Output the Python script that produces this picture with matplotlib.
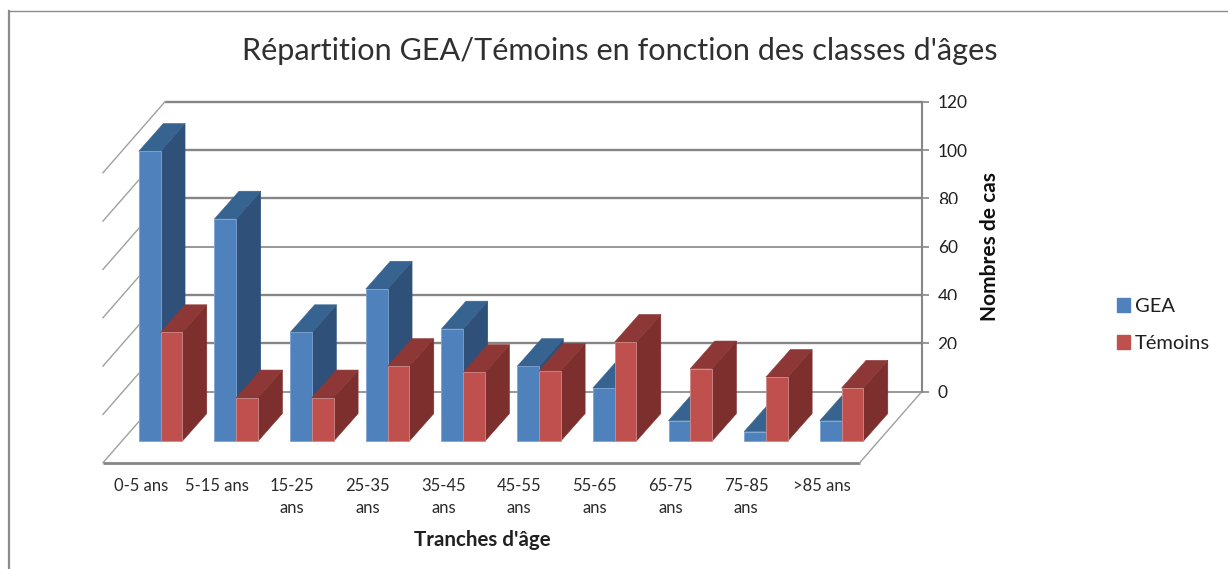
import matplotlib
matplotlib.use("Agg")
import matplotlib.pyplot as plt
from matplotlib.lines import Line2D
from matplotlib.patches import Patch
from matplotlib.transforms import Bbox

W, H = 1228, 569

categories = ["0-5 ans", "5-15 ans", "15-25\nans", "25-35\nans", "35-45\nans",
              "45-55\nans", "55-65\nans", "65-75\nans", "75-85\nans", ">85 ans"]
gea = [120, 92, 45, 63, 46.5, 31, 22, 8.5, 4, 8.5]
temoins = [45, 18, 18, 31, 28.5, 29, 41, 30, 26.5, 22]
yticks = [0, 20, 40, 60, 80, 100, 120]

BLUE = ("#4f81bd", "#2f5179", "#376391", "#7ea3d2")
RED = ("#c0504d", "#7d2f2e", "#8d3836", "#d08a88")
GRID = "#868686"

# fake 3d: offsets from the back wall, in data units (x: category, y: value)
FLOOR_DX, FLOOR_DY = -0.82, -29.4
BAR_DX, BAR_DY = -0.559, -20.5
DEPTH_DX, DEPTH_DY = 0.324, 11.46
BAR_W = 0.287

plt.rcParams["font.family"] = ["Lato", "DejaVu Sans"]

fig = plt.figure(figsize=(W / 100, H / 100), dpi=100)
ax = fig.add_axes([165 / W, (H - 391.7) / H, 756.7 / W, 290 / H])
ax.set_xlim(0, len(categories))
ax.set_ylim(0, 120)
ax.patch.set_visible(False)


def draw_bar(left, value, colors, z):
    front, side, top, edge = colors
    right = left + BAR_W
    y0 = BAR_DY
    y1 = BAR_DY + value
    ax.fill([right, right + DEPTH_DX, right + DEPTH_DX, right],
            [y0, y0 + DEPTH_DY, y1 + DEPTH_DY, y1],
            facecolor=side, edgecolor=side, lw=0.4, clip_on=False, zorder=z)
    ax.fill([left, left + DEPTH_DX, right + DEPTH_DX, right],
            [y1, y1 + DEPTH_DY, y1 + DEPTH_DY, y1],
            facecolor=top, edgecolor=top, lw=0.4, clip_on=False, zorder=z)
    ax.bar(left, value, BAR_W, bottom=y0, align="edge", color=front,
           edgecolor=edge, lw=0.6, clip_on=False, zorder=z + 0.5)


# walls and floor
for t in yticks:
    lw = 1.7 if t in (100, 120, 80, 40, 20) else 1.2
    ax.plot([0, len(categories)], [t, t], color=GRID, lw=lw, clip_on=False, zorder=1,
            solid_capstyle="butt")
    ax.plot([0, FLOOR_DX], [t, t + FLOOR_DY], color="#a0a0a0", lw=1.0, clip_on=False, zorder=1)
ax.plot([FLOOR_DX, len(categories) + FLOOR_DX], [FLOOR_DY, FLOOR_DY], color=GRID, lw=2.0,
        clip_on=False, zorder=1, solid_capstyle="butt")
ax.plot([len(categories), len(categories) + FLOOR_DX], [0, FLOOR_DY], color="#a0a0a0", lw=1.0,
        clip_on=False, zorder=1)

for i in range(len(categories)):
    center = i + 0.5 + BAR_DX
    draw_bar(center - BAR_W, gea[i], BLUE, 2 + i * 2)
    draw_bar(center, temoins[i], RED, 3 + i * 2)
    ax.text(i + 0.5 + FLOOR_DX, FLOOR_DY - 6.3, categories[i], ha="center", va="top",
            fontsize=12, color="#2a2a2a", linespacing=1.5)

ax.set_xticks([])
ax.set_yticks(yticks)
ax.yaxis.tick_right()
ax.tick_params(axis="y", length=5, width=1.2, color=GRID, pad=6.5, labelsize=12.5,
               labelcolor="#202020")
for name in ("left", "top", "bottom"):
    ax.spines[name].set_visible(False)
ax.spines["right"].set_color(GRID)
ax.spines["right"].set_linewidth(1.5)

# the source picture cuts some labels off at the bottom
cuts = {80: 204, 40: 300, 20: 349}
fig.canvas.draw()
for tick, t in zip(ax.yaxis.get_major_ticks(), yticks):
    if t in cuts:
        tick.label2.set_clip_box(Bbox([[0, H - cuts[t]], [W, H]]))
        tick.label2.set_clip_on(True)

fig.text(620 / W, 1 - 51 / H, "Répartition GEA/Témoins en fonction des classes d'âges",
         ha="center", va="center", fontsize=22.1, color="#303030")
fig.text(482.5 / W, 1 - 540 / H, "Tranches d'âge", ha="center", va="center",
         fontsize=14.8, fontweight="bold", color="#202020")
fig.text(990 / W, 1 - 246.5 / H, "Nombres de cas", ha="center", va="center",
         rotation=90, fontsize=15, fontweight="bold", color="#101010")

leg = fig.legend(handles=[Patch(color=BLUE[0], label="GEA"), Patch(color=RED[0], label="Témoins")],
                 loc="upper left", bbox_to_anchor=(1111 / W, 1 - 292 / H), frameon=False,
                 fontsize=14.5, handlelength=0.65, handleheight=0.65, handletextpad=0.25,
                 labelspacing=1.0, borderpad=0.3, borderaxespad=0, labelcolor="#202020")
leg.get_texts()[1].set_clip_box(Bbox([[0, H - 349], [W, H]]))
leg.get_texts()[1].set_clip_on(True)

# chart frame
fig.add_artist(Line2D([9 / W, 9 / W], [0, 1 - 11 / H], color="#8c8c8c", lw=1.6))
fig.add_artist(Line2D([9 / W, 1], [1 - 11 / H, 1 - 11 / H], color="#8c8c8c", lw=1.0))

fig.savefig("out.png", dpi=100)
